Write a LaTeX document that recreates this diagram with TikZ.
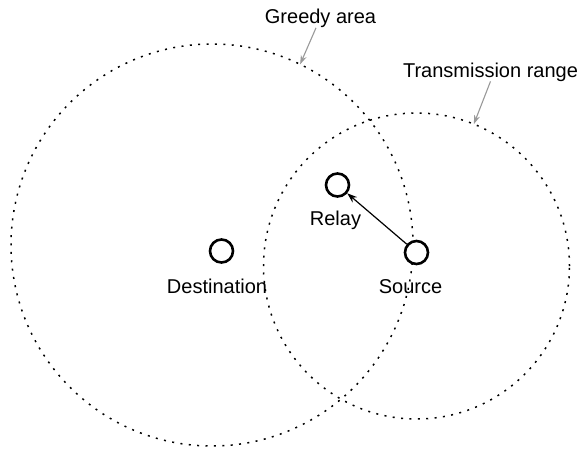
\documentclass[tikz,border=0pt]{standalone}
\usepackage{fontspec}
\setmainfont{Liberation Sans}
\usetikzlibrary{arrows.meta}
\begin{document}
\begin{tikzpicture}[x=1pt,y=-1pt,
  area/.style={circle, draw, inner sep=0pt, outer sep=0pt, line width=1.5pt,
    dash pattern=on 2pt off 6.4pt},
  host/.style={circle, draw, fill=white, line width=2.6pt, minimum size=23pt, inner sep=0pt},
  lbl/.style={anchor=base, inner sep=0pt, font=\fontsize{20}{24}\selectfont},
  pointer/.style={draw=black!40, line width=1.1pt, -{Stealth[length=9pt,width=6pt,fill=black!40]}},
  hop/.style={draw=black, line width=1.2pt, -{Stealth[length=10pt,width=7pt]}}]
\useasboundingbox (0,0) rectangle (583,448);

% coverage regions
\node[area, minimum size=402pt] (greedy) at (212,245) {};
\node[area, minimum size=306pt] (range) at (416.5,266) {};

% hosts
\node[host] (dst) at (221.5,251) {};
\node[host] (src) at (416.5,252.5) {};
\node[host] (relay) at (337.5,185) {};

% forwarding step
\draw[hop] (src) -- (relay);

% labels
\node[lbl] (ldst) at (217,293) {Destination};
\node[lbl] (lsrc) at (410.5,293) {Source};
\node[lbl] (lrelay) at (335.5,225) {Relay};
\node[lbl] (lgreedy) at (320.5,23.5) {Greedy area};
\node[lbl] (lrange) at (490.5,77) {Transmission range};

% callouts
\draw[pointer] ([xshift=-4.5pt]lgreedy.south) -- (greedy.64);
\draw[pointer] (lrange.south) -- (range.68);
\end{tikzpicture}
\end{document}
